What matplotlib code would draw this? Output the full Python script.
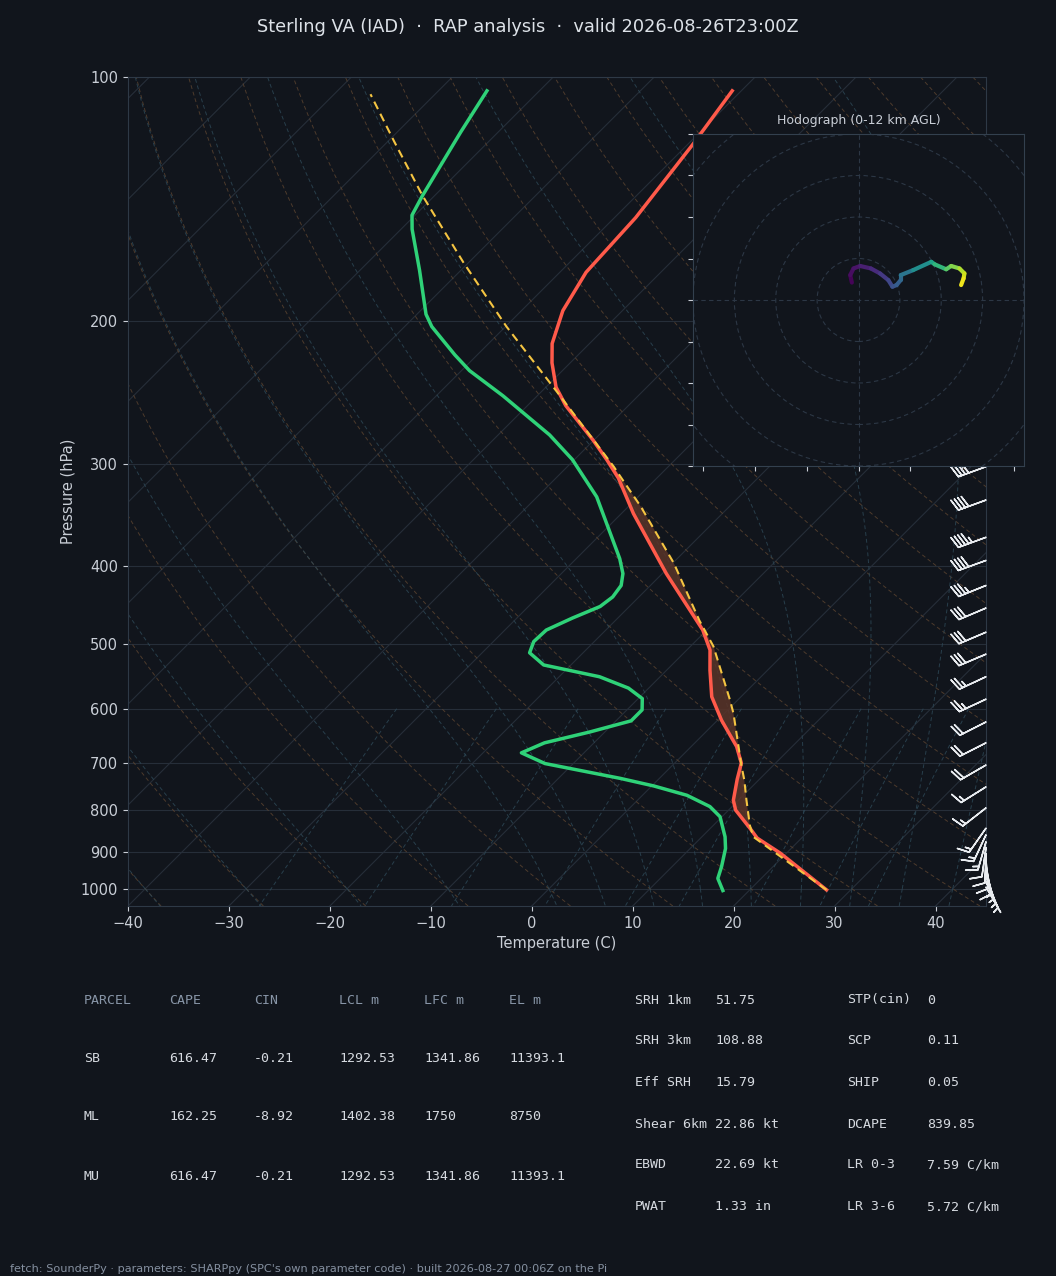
import numpy as np
import matplotlib.pyplot as plt
from matplotlib.collections import LineCollection
from matplotlib.patches import Circle
from matplotlib.ticker import FixedLocator, NullLocator, FixedFormatter

W, H = 1056, 1276
BG = '#11151c'
GRID = '#262e39'
TXT = '#c9ced6'

# environmental temperature (hPa, degC)
temp_p = [1003, 904, 866, 842, 800, 778, 733, 700, 668, 620, 580, 538, 508, 480, 454,
          409, 345, 312, 296, 280, 254, 241, 225, 213, 194, 174, 149, 121, 104]
temp_t = [27.6, 19.4, 15.6, 13.9, 10.7, 9.5, 7.8, 6.6, 4.5, 0.4, -2.9, -5.7, -7.7, -10.4, -13.6,
          -19.6, -28.8, -33.8, -36.8, -40.1, -46.2, -49.0, -51.8, -53.7, -55.9, -57.4, -57.9, -59.5, -60.9]

# dewpoint (hPa, degC)
dewp_p = [1005, 971, 939, 892, 863, 815, 792, 767, 747, 731, 701, 680, 661, 641, 621, 602,
          583, 566, 548, 530, 512, 496, 480, 464, 449, 437, 423, 409, 392, 329, 296, 276,
          247, 230, 220, 203, 196, 173, 154, 148, 140, 117, 104]
dewp_t = [17.4, 15.7, 14.9, 13.5, 12.3, 9.8, 7.8, 4.4, 0.2, -3.9, -12.8, -16.2, -14.9, -11.5, -8.5, -8.5,
          -9.6, -12.0, -16.0, -22.7, -25.3, -26.0, -25.9, -24.5, -22.9, -22.6, -22.9, -23.9, -25.7, -34.1, -40.2, -44.9,
          -53.4, -59.2, -62.2, -67.3, -69.1, -74.1, -78.9, -80.3, -81.2, -83.7, -85.2]

# surface parcel trace
parcel_p = [1003, 863, 835, 778, 735, 704, 608, 585, 503, 467, 397, 338, 312, 302, 244, 203, 169, 140, 120, 105]
parcel_t = [27.6, 15.1, 13.6, 10.8, 8.6, 6.8, 0.9, -0.8, -7.7, -11.7, -19.9, -28.8, -33.5, -35.4, -48.5,
            -59.9, -70.6, -81.2, -89.4, -96.4]

# wind barbs (kt, deg)
barb_p = [302, 332, 369, 394, 423, 451, 483, 514, 548, 584, 623, 661, 704, 749, 795,
          842, 858, 875, 890, 905, 920, 935, 950, 965, 980, 995]
barb_spd = [40, 40, 45, 40, 35, 30, 30, 30, 25, 25, 20, 20, 20, 15, 15,
            15, 15, 15, 10, 10, 10, 10, 5, 5, 5, 5]
barb_dir = [250, 250, 250, 250, 248, 247, 247, 247, 245, 245, 243, 243, 240, 238, 232,
            215, 205, 196, 188, 182, 176, 170, 165, 160, 155, 150]

# hodograph (m/s) by height (km AGL)
hodo_u = [-1.6, -2.0, -1.2, 0.4, 3.0, 5.2, 7.2, 8.2, 9.2, 10.2, 10.2, 13.2, 17.6, 18.4,
          21.2, 22.4, 24.4, 25.6, 25.4, 24.8]
hodo_v = [4.2, 6.0, 7.6, 8.2, 7.6, 6.4, 4.8, 3.2, 3.6, 4.8, 6.0, 7.2, 9.2, 8.6,
          7.4, 8.2, 7.6, 6.4, 5.2, 3.6]
hodo_hgt = [0, 0.25, 0.5, 0.8, 1.2, 1.7, 2.3, 2.8, 3.3, 3.8, 4.3, 5.0, 6.8, 7.2,
            8.6, 9.3, 10.2, 10.9, 11.4, 12.0]

# parameter tables
tbl_cols = ['PARCEL', 'CAPE', 'CIN', 'LCL m', 'LFC m', 'EL m']
tbl_rows = [['SB', '616.47', '-0.21', '1292.53', '1341.86', '11393.1'],
            ['ML', '162.25', '-8.92', '1402.38', '1750', '8750'],
            ['MU', '616.47', '-0.21', '1292.53', '1341.86', '11393.1']]
idx_left = [('SRH 1km', '51.75'), ('SRH 3km', '108.88'), ('Eff SRH', '15.79'),
            ('Shear 6km', '22.86 kt'), ('EBWD', '22.69 kt'), ('PWAT', '1.33 in')]
idx_right = [('STP(cin)', '0'), ('SCP', '0.11'), ('SHIP', '0.05'),
             ('DCAPE', '839.85'), ('LR 0-3', '7.59 C/km'), ('LR 3-6', '5.72 C/km')]

fig = plt.figure(figsize=(W / 100, H / 100), dpi=100, facecolor=BG)

ax_l, ax_b, ax_w, ax_h = 128, 906, 858, 829
ax = fig.add_axes([ax_l / W, 1 - ax_b / H, ax_w / W, ax_h / H], facecolor=BG)
PBOT, PTOP, XMIN, XMAX = 1050, 100, -40, 45
SK = (ax_h / np.log10(PBOT / PTOP)) / (ax_w / (XMAX - XMIN))


def skew(t, p):
    return np.asarray(t, float) + SK * np.log10(PBOT / np.asarray(p, float))


ax.set_yscale('log')
ax.set_ylim(PBOT, PTOP)
ax.set_xlim(XMIN, XMAX)
pticks = list(range(100, 1001, 100))
ax.yaxis.set_major_locator(FixedLocator(pticks))
ax.yaxis.set_major_formatter(FixedFormatter([str(v) for v in pticks]))
ax.yaxis.set_minor_locator(NullLocator())
ax.set_xticks(range(-40, 41, 10))
ax.tick_params(colors=TXT, labelsize=10.5)
for s in ax.spines.values():
    s.set_color('#2e3946')
for pt in pticks:
    ax.axhline(pt, color=GRID, lw=0.8, zorder=1)

# isotherms
pl = np.array([PBOT, PTOP])
for t in range(-150, 50, 10):
    ax.plot(skew([t, t], pl), pl, color=GRID, lw=0.8, zorder=1)

# dry adiabats
pp = np.linspace(PBOT, PTOP, 120)
for t0 in range(-40, 246, 10):
    tt = (t0 + 273.15) * (pp / 1000.0) ** 0.2857 - 273.15
    ax.plot(skew(tt, pp), pp, color='#5c4430', lw=0.7, ls=(0, (4, 3)), alpha=0.8, zorder=1)


# moist adiabats
def esat(tc):
    return 6.112 * np.exp(17.67 * tc / (tc + 243.5))


def dtdlnp(tk, p):
    es = esat(tk - 273.15)
    rs = 0.622 * es / (p - es)
    return (287.04 * tk + 2.501e6 * rs) / (1005.7 + 2.501e6 ** 2 * rs * 0.622 / (287.04 * tk ** 2))


t0s = np.concatenate((np.arange(-40, 0, 10), np.arange(0, 46, 5))).astype(float)
for pend in (PTOP, PBOT):
    lnp = np.linspace(np.log(1000), np.log(pend), 200)
    tk = t0s + 273.15
    out = [tk.copy()]
    for i in range(len(lnp) - 1):
        h = lnp[i + 1] - lnp[i]
        k1 = dtdlnp(tk, np.exp(lnp[i]))
        k2 = dtdlnp(tk + h * k1, np.exp(lnp[i + 1]))
        tk = tk + h * 0.5 * (k1 + k2)
        out.append(tk.copy())
    out = np.array(out) - 273.15
    pm = np.exp(lnp)
    for j in range(len(t0s)):
        ax.plot(skew(out[:, j], pm), pm, color='#2c4654', lw=0.7, ls=(0, (4, 3)), alpha=0.85, zorder=1)

# mixing ratio lines
pw = np.linspace(600, PBOT, 50)
for w in [0.0004, 0.001, 0.002, 0.004, 0.007, 0.01, 0.016, 0.024, 0.032]:
    e = pw * w / (0.622 + w)
    lg = np.log(e / 6.112)
    td = 243.5 * lg / (17.67 - lg)
    ax.plot(skew(td, pw), pw, color='#2c4654', lw=0.7, ls=(0, (4, 3)), alpha=0.85, zorder=1)

# CAPE shading
tp = np.array(temp_p)[::-1]
pgrid = np.exp(np.linspace(np.log(860), np.log(240), 300))
env_i = np.interp(np.log(pgrid), np.log(tp), np.array(temp_t)[::-1])
par_i = np.interp(np.log(pgrid), np.log(np.array(parcel_p)[::-1]), np.array(parcel_t)[::-1])
ax.fill_betweenx(pgrid, skew(env_i, pgrid), skew(par_i, pgrid), where=par_i > env_i,
                 color='#5a3428', alpha=0.85, lw=0, zorder=2)

ax.plot(skew(temp_t, temp_p), temp_p, color='#ff5a4a', lw=2.5, zorder=4)
ax.plot(skew(dewp_t, dewp_p), dewp_p, color='#2fd278', lw=2.5, zorder=4)
ax.plot(skew(parcel_t, parcel_p), parcel_p, color='#f5c542', lw=1.5, ls=(0, (4, 2.5)), zorder=5)

# wind barbs on the right edge
bd = np.radians(barb_dir)
bu = -np.array(barb_spd) * np.sin(bd)
bv = -np.array(barb_spd) * np.cos(bd)
ax.barbs(np.full(len(barb_p), XMAX), barb_p, bu, bv, length=6.5, color='#e8ebef',
         lw=1.1, clip_on=False, zorder=6)

ax.set_xlabel('Temperature (C)', color=TXT, fontsize=10.5)
ax.set_ylabel('Pressure (hPa)', color=TXT, fontsize=10.5)

# hodograph inset
hx = fig.add_axes([693 / W, 1 - 466 / H, 331 / W, 332 / H], facecolor=BG)
hx.set_xlim(-40, 40)
hx.set_ylim(-40, 40)
for r in range(10, 90, 10):
    hx.add_patch(Circle((0, 0), r, fill=False, ls=(0, (4, 3)), color='#2c3745', lw=0.8))
hx.axhline(0, color='#2c3745', lw=0.8, ls=(0, (4, 3)))
hx.axvline(0, color='#2c3745', lw=0.8, ls=(0, (4, 3)))
pts = np.column_stack([hodo_u, hodo_v])
segs = np.stack([pts[:-1], pts[1:]], axis=1)
hh = np.array(hodo_hgt)
lc = LineCollection(segs, cmap='viridis', norm=plt.Normalize(0, 12), lw=3, capstyle='round')
lc.set_array(0.5 * (hh[:-1] + hh[1:]))
hx.add_collection(lc)
hx.set_xticks([-37.5, -25, -12.5, 0, 12.5, 25, 37.5])
hx.set_yticks(range(-40, 41, 10))
hx.set_xticklabels([])
hx.set_yticklabels([])
hx.tick_params(colors='#c9ced6', length=3.5)
for s in hx.spines.values():
    s.set_color('#33404e')
hx.set_title('Hodograph (0-12 km AGL)', color=TXT, fontsize=9, pad=7)

fig.text(0.5, 1 - 27 / H, 'Sterling VA (IAD)  \u00b7  RAP analysis  \u00b7  valid 2026-08-26T23:00Z',
         ha='center', va='center', color='#dde2e8', fontsize=12.8)

mono = dict(family='DejaVu Sans Mono', fontsize=9.5, va='center')
col_x = [84, 169, 254, 339, 424, 509]
for cx, name in zip(col_x, tbl_cols):
    fig.text(cx / W, 1 - 1000 / H, name, color='#8895a7', **mono)
for ry, row in zip([1058, 1117, 1176], tbl_rows):
    for cx, val in zip(col_x, row):
        fig.text(cx / W, 1 - ry / H, val, color='#d6dae0', **mono)

row_y = [1000, 1041, 1082, 1124, 1165, 1207]
for ry, (lab, val) in zip(row_y, idx_left):
    fig.text(635 / W, 1 - ry / H, lab, color='#d6dae0', **mono)
    fig.text(715 / W, 1 - ry / H, val, color='#d6dae0', **mono)
for ry, (lab, val) in zip(row_y, idx_right):
    fig.text(847 / W, 1 - ry / H, lab, color='#d6dae0', **mono)
    fig.text(927 / W, 1 - ry / H, val, color='#d6dae0', **mono)

fig.text(10 / W, 1 - 1269 / H,
         "fetch: SounderPy \u00b7 parameters: SHARPpy (SPC's own parameter code) \u00b7 built 2026-08-27 00:06Z on the Pi",
         color='#8590a0', fontsize=8.1, va='center')

fig.savefig('out.png', dpi=100, facecolor=BG)
